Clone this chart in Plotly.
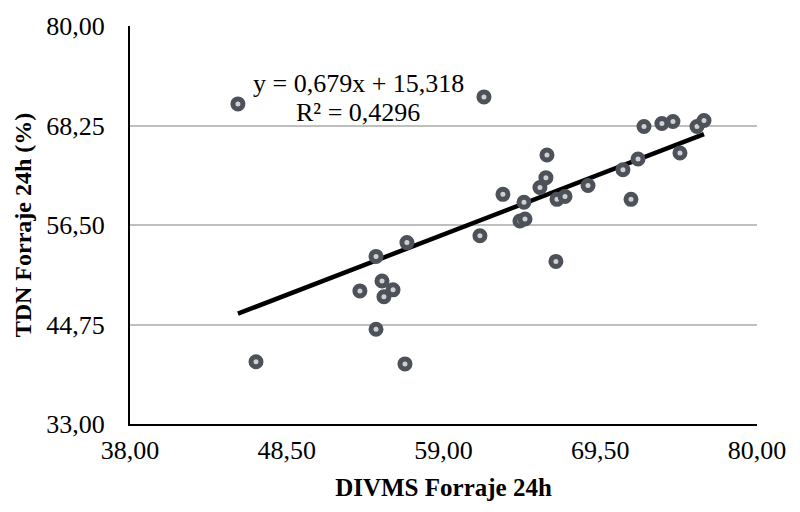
import plotly.graph_objects as go

# Data
divms = [45.23, 61.71, 46.44, 56.42, 54.48, 53.40, 54.48, 54.88, 55.01, 55.62,
         56.55, 61.44, 62.98, 64.12, 64.46, 64.39, 65.46, 65.86, 65.93, 66.60,
         66.53, 67.14, 68.68, 71.02, 71.56, 72.03, 72.43, 73.63, 74.37, 74.84,
         75.98, 76.45]
tdn = [70.80, 71.63, 40.35, 40.10, 44.19, 48.72, 52.79, 49.88, 48.02, 48.84,
       54.42, 55.23, 60.12, 56.98, 57.20, 59.19, 60.93, 62.09, 64.77, 59.53,
       52.20, 59.88, 61.16, 63.02, 59.53, 64.30, 68.14, 68.49, 68.72, 65.00,
       68.14, 68.84]

slope = 0.679
intercept = 15.318
equation_text = "y = 0,679x + 15,318"
r2_text = "R² = 0,4296"

x_ticks = [38.0, 48.5, 59.0, 69.5, 80.0]
y_ticks = [33.0, 44.75, 56.5, 68.25, 80.0]

x_title = "DIVMS Forraje 24h"
y_title = "TDN Forraje 24h (%)"

trend_x = [min(divms), max(divms)]
trend_y = [slope * v + intercept for v in trend_x]

FONT = "Liberation Serif"

fig = go.Figure()
fig.add_trace(go.Scatter(
    x=trend_x, y=trend_y, mode="lines",
    line=dict(color="#000000", width=4.5),
    hoverinfo="skip", showlegend=False,
))
fig.add_trace(go.Scatter(
    x=divms, y=tdn, mode="markers",
    marker=dict(size=10, color="#d0d0d0",
                line=dict(color="#4d5159", width=5)),
    showlegend=False,
))

fig.add_annotation(x=0.364, y=0.855, xref="paper", yref="paper",
                   xanchor="center", yanchor="middle",
                   text=equation_text, showarrow=False,
                   font=dict(family=FONT, size=26, color="#000000"))
fig.add_annotation(x=0.364, y=0.782, xref="paper", yref="paper",
                   xanchor="center", yanchor="middle",
                   text=r2_text, showarrow=False,
                   font=dict(family=FONT, size=26, color="#000000"))

fig.update_layout(
    width=800, height=512,
    margin=dict(l=130, r=43, t=20, b=88),
    paper_bgcolor="white", plot_bgcolor="white",
    separators=",.",
    font=dict(family=FONT, size=26, color="#000000"),
    xaxis=dict(
        range=[38, 80], tickvals=x_ticks, tickformat=".2f",
        showgrid=False, zeroline=False,
        showline=True, linecolor="#000000", linewidth=2,
        ticks="outside", ticklen=2, tickcolor="rgba(0,0,0,0)",
        title=dict(text="<b>" + x_title + "</b>", standoff=14,
                   font=dict(family=FONT, size=25)),
        tickfont=dict(family=FONT, size=26),
    ),
    yaxis=dict(
        range=[33, 80], tickvals=y_ticks, tickformat=".2f",
        showgrid=True, gridcolor="#bfbfbf", gridwidth=2, zeroline=False,
        showline=True, linecolor="#000000", linewidth=2,
        ticks="outside", ticklen=18, tickcolor="rgba(0,0,0,0)",
        title=dict(text="<b>" + y_title + "</b>", standoff=8,
                   font=dict(family=FONT, size=24)),
        tickfont=dict(family=FONT, size=26),
    ),
)

fig.write_html("out.html")
